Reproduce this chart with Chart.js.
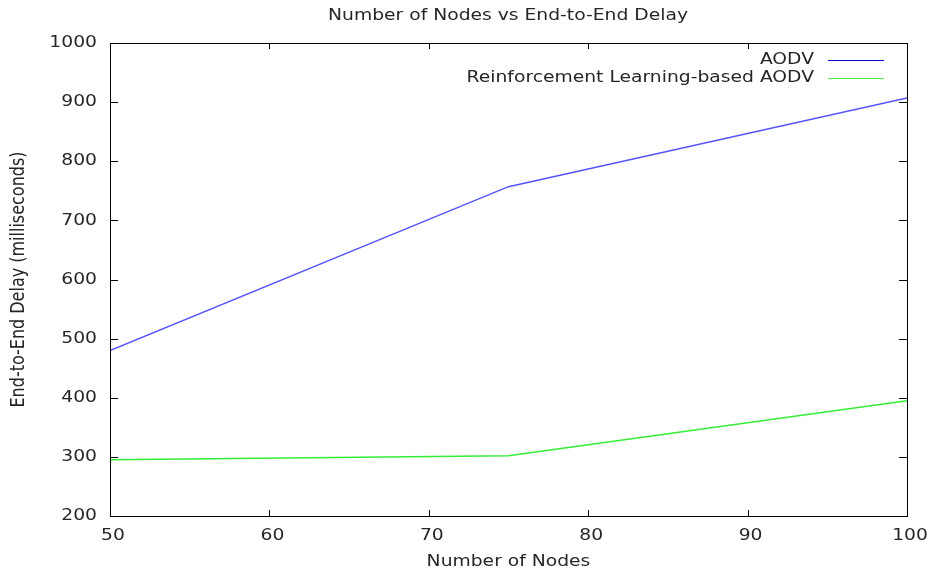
<!DOCTYPE html>
<html lang="en">
<head>
    <meta charset="UTF-8">
    <title>Number of Nodes vs End-to-End Delay</title>
    <script src="https://cdn.jsdelivr.net/npm/chart.js"></script>
    <style>
        body { margin: 0; padding: 0; background: white; }
        #wrap { width: 929px; height: 573px; }
    </style>
</head>
<body>
    <div id="wrap"><canvas id="delay-chart" width="929" height="573"></canvas></div>

    <script>
        const nodeCounts = [50, 75, 100];
        const aodvDelay = [480, 757, 907];
        const rlAodvDelay = [295, 302, 395];
        const xTicks = [50, 60, 70, 80, 90, 100];
        const yTicks = [200, 300, 400, 500, 600, 700, 800, 900, 1000];

        const FONT = "16px 'DejaVu Sans', sans-serif";
        const STRETCH = 1.17; // reference text is a bit wider than plain DejaVu
        const TEXT_COLOR = "#262626";

        function wideText(ctx, text, x, y, align) {
            ctx.save();
            ctx.translate(x, y);
            ctx.scale(STRETCH, 1);
            ctx.textAlign = align;
            ctx.textBaseline = "middle";
            ctx.fillText(text, 0, 0);
            ctx.restore();
        }

        // gnuplot-like frame: box, inward mirrored ticks, labels, title and key
        const gnuplotFrame = {
            id: "gnuplotFrame",
            afterDatasetsDraw(chart) {
                const ctx = chart.ctx;
                const a = chart.chartArea;
                const xs = chart.scales.x, ys = chart.scales.y;
                ctx.save();
                ctx.strokeStyle = "#000";
                ctx.lineWidth = 1;
                ctx.beginPath();
                xTicks.forEach(v => {
                    const px = Math.round(xs.getPixelForValue(v)) + 0.5;
                    ctx.moveTo(px, a.bottom); ctx.lineTo(px, a.bottom - 6);
                    ctx.moveTo(px, a.top); ctx.lineTo(px, a.top + 6);
                });
                yTicks.forEach(v => {
                    const py = Math.round(ys.getPixelForValue(v)) + 0.5;
                    ctx.moveTo(a.left, py); ctx.lineTo(a.left + 8, py);
                    ctx.moveTo(a.right, py); ctx.lineTo(a.right - 8, py);
                });
                ctx.stroke();
                ctx.strokeRect(Math.round(a.left) + 0.5, Math.round(a.top) + 0.5,
                    Math.round(a.right - a.left), Math.round(a.bottom - a.top));

                ctx.fillStyle = TEXT_COLOR;
                ctx.font = FONT;

                // tick labels
                xTicks.forEach(v => wideText(ctx, String(v), xs.getPixelForValue(v) + 3, a.bottom + 20, "center"));
                yTicks.forEach(v => wideText(ctx, String(v), a.left - 13, ys.getPixelForValue(v), "right"));

                // axis titles
                wideText(ctx, "Number of Nodes", (a.left + a.right) / 2, 562, "center");
                ctx.save();
                ctx.translate(19, (a.top + a.bottom) / 2);
                ctx.scale(STRETCH, 1);
                ctx.rotate(-Math.PI / 2);
                ctx.textAlign = "center";
                ctx.textBaseline = "middle";
                ctx.fillText("End-to-End Delay (milliseconds)", 0, 0);
                ctx.restore();

                // title
                wideText(ctx, "Number of Nodes vs End-to-End Delay", 508, 16, "center");

                // key
                const key = [
                    { label: "AODV", color: "#0000c8", y: 60 },
                    { label: "Reinforcement Learning-based AODV", color: "#44ee44", y: 78 }
                ];
                key.forEach(k => {
                    ctx.fillStyle = TEXT_COLOR;
                    wideText(ctx, k.label, 814, k.y, "right");
                    ctx.strokeStyle = k.color;
                    ctx.beginPath();
                    ctx.moveTo(828, k.y + 0.5); ctx.lineTo(884, k.y + 0.5);
                    ctx.stroke();
                });
                ctx.restore();
            }
        };

        new Chart(document.getElementById("delay-chart").getContext("2d"), {
            type: "line",
            data: {
                datasets: [
                    {
                        label: "AODV",
                        data: nodeCounts.map((n, i) => ({ x: n, y: aodvDelay[i] })),
                        borderColor: "#5555ff",
                        borderWidth: 1.5,
                        pointRadius: 0,
                        fill: false,
                        tension: 0
                    },
                    {
                        label: "Reinforcement Learning-based AODV",
                        data: nodeCounts.map((n, i) => ({ x: n, y: rlAodvDelay[i] })),
                        borderColor: "#33ee33",
                        borderWidth: 1.5,
                        pointRadius: 0,
                        fill: false,
                        tension: 0
                    }
                ]
            },
            options: {
                responsive: false,
                animation: false,
                layout: { padding: { top: 43, right: 22, left: 0, bottom: 0 } },
                plugins: {
                    legend: { display: false },
                    title: { display: false },
                    tooltip: { enabled: false }
                },
                scales: {
                    x: {
                        type: "linear",
                        min: 50,
                        max: 100,
                        afterBuildTicks: s => { s.ticks = xTicks.map(v => ({ value: v })); },
                        afterFit: s => { s.height = 57; },
                        grid: { display: false },
                        border: { display: false },
                        ticks: { display: false }
                    },
                    y: {
                        min: 200,
                        max: 1000,
                        afterBuildTicks: s => { s.ticks = yTicks.map(v => ({ value: v })); },
                        afterFit: s => { s.width = 110; },
                        grid: { display: false },
                        border: { display: false },
                        ticks: { display: false }
                    }
                }
            },
            plugins: [gnuplotFrame]
        });
    </script>
</body>
</html>
